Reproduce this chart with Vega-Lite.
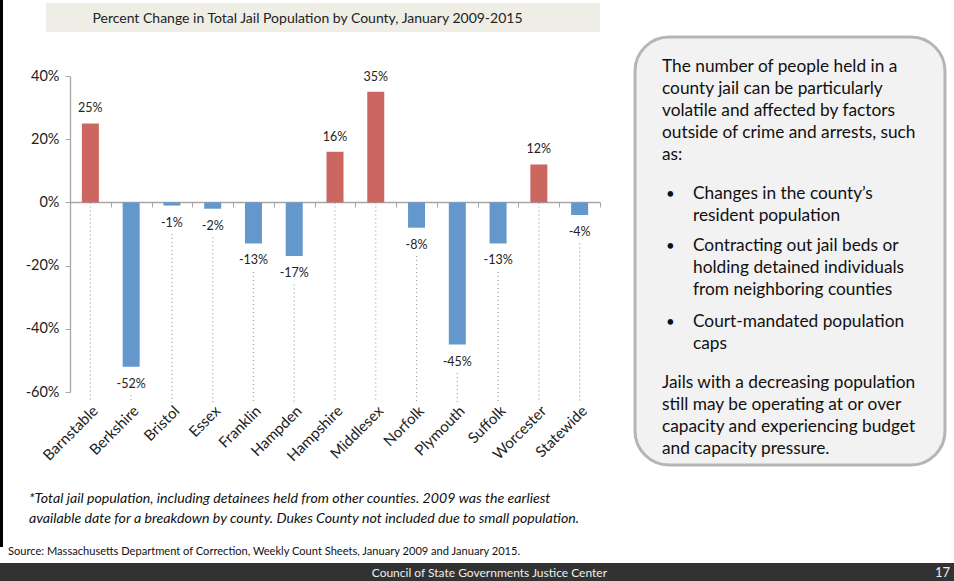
{
  "$schema": "https://vega.github.io/schema/vega-lite/v6.json",
  "width": 530,
  "height": 316,
  "autosize": {"type": "none"},
  "padding": {"left": 70, "top": 76, "right": 354, "bottom": 189},
  "background": "white",
  "config": {
    "font": "Lato",
    "view": {"stroke": null},
    "locale": {"number": {"decimal": ".", "thousands": ",", "grouping": [3], "currency": ["$", ""], "minus": "-"}}
  },
  "data": {
    "values": [
      {"county": "Barnstable", "pct": 0.25},
      {"county": "Berkshire", "pct": -0.52},
      {"county": "Bristol", "pct": -0.01},
      {"county": "Essex", "pct": -0.02},
      {"county": "Franklin", "pct": -0.13},
      {"county": "Hampden", "pct": -0.17},
      {"county": "Hampshire", "pct": 0.16},
      {"county": "Middlesex", "pct": 0.35},
      {"county": "Norfolk", "pct": -0.08},
      {"county": "Plymouth", "pct": -0.45},
      {"county": "Suffolk", "pct": -0.13},
      {"county": "Worcester", "pct": 0.12},
      {"county": "Statewide", "pct": -0.04}
    ]
  },
  "resolve": {"axis": {"x": "independent"}},
  "layer": [
    {
      "data": {"values": [{}]},
      "mark": {"type": "rect", "color": "#eeeee6"},
      "encoding": {"x": {"value": -24}, "x2": {"value": 530}, "y": {"value": -73}, "y2": {"value": -44}}
    },
    {
      "data": {"values": [{}]},
      "mark": {"type": "text", "text": "Percent Change in Total Jail Population by County, January 2009-2015", "fontSize": 14, "color": "#222222", "align": "center", "baseline": "middle"},
      "encoding": {"x": {"value": 237.5}, "y": {"value": -57}}
    },
    {
      "data": {"values": [{}]},
      "mark": {"type": "rect", "fill": "#f2f2f2", "stroke": "#b5b5b5", "strokeWidth": 3, "cornerRadius": 34},
      "encoding": {"x": {"value": 565}, "x2": {"value": 875}, "y": {"value": -39}, "y2": {"value": 389}}
    },
    {
      "data": {"values": [{}]},
      "mark": {"type": "text", "fontSize": 17.3, "color": "#111111", "align": "left", "baseline": "top", "lineHeight": 22,
        "text": ["The number of people held in a", "county jail can be particularly", "volatile and affected by factors", "outside of crime and arrests, such", "as:"]},
      "encoding": {"x": {"value": 592}, "y": {"value": -18}}
    },
    {
      "data": {"values": [{}]},
      "mark": {"type": "text", "fontSize": 17.3, "color": "#111111", "align": "left", "baseline": "top", "lineHeight": 21.5,
        "text": ["Changes in the county\u2019s", "resident population"]},
      "encoding": {"x": {"value": 623}, "y": {"value": 109}}
    },
    {
      "data": {"values": [{}]},
      "mark": {"type": "text", "fontSize": 17.3, "color": "#111111", "align": "left", "baseline": "top", "lineHeight": 22,
        "text": ["Contracting out jail beds or", "holding detained individuals", "from neighboring counties"]},
      "encoding": {"x": {"value": 623}, "y": {"value": 161}}
    },
    {
      "data": {"values": [{}]},
      "mark": {"type": "text", "fontSize": 17.3, "color": "#111111", "align": "left", "baseline": "top", "lineHeight": 21.5,
        "text": ["Court-mandated population", "caps"]},
      "encoding": {"x": {"value": 623}, "y": {"value": 237}}
    },
    {
      "data": {"values": [{}]},
      "mark": {"type": "text", "fontSize": 15, "color": "#111111", "align": "left", "baseline": "top", "text": "\u2022"},
      "encoding": {"x": {"value": 596}, "y": {"value": 111}}
    },
    {
      "data": {"values": [{}]},
      "mark": {"type": "text", "fontSize": 15, "color": "#111111", "align": "left", "baseline": "top", "text": "\u2022"},
      "encoding": {"x": {"value": 596}, "y": {"value": 163}}
    },
    {
      "data": {"values": [{}]},
      "mark": {"type": "text", "fontSize": 15, "color": "#111111", "align": "left", "baseline": "top", "text": "\u2022"},
      "encoding": {"x": {"value": 596}, "y": {"value": 239}}
    },
    {
      "data": {"values": [{}]},
      "mark": {"type": "text", "fontSize": 17.3, "color": "#111111", "align": "left", "baseline": "top", "lineHeight": 22,
        "text": ["Jails with a decreasing population", "still may be operating at or over", "capacity and experiencing budget", "and capacity pressure."]},
      "encoding": {"x": {"value": 592}, "y": {"value": 298}}
    },
    {
      "data": {"values": [{}]},
      "mark": {"type": "text", "fontSize": 14.2, "fontStyle": "italic", "color": "#111111", "align": "left", "baseline": "top", "lineHeight": 20,
        "text": ["*Total jail population, including detainees held from other counties. 2009 was the earliest", "available date for a breakdown by county. Dukes County not included due to small population."]},
      "encoding": {"x": {"value": -41}, "y": {"value": 416}}
    },
    {
      "data": {"values": [{}]},
      "mark": {"type": "text", "fontSize": 11.1, "color": "#111111", "align": "left", "baseline": "middle",
        "text": "Source: Massachusetts Department of Correction, Weekly Count Sheets, January 2009 and January 2015."},
      "encoding": {"x": {"value": -62}, "y": {"value": 476}}
    },
    {
      "data": {"values": [{}]},
      "mark": {"type": "rule", "color": "#000000", "strokeWidth": 3},
      "encoding": {"x": {"value": -68.5}, "y": {"value": -76}, "y2": {"value": 471}}
    },
    {
      "data": {"values": [{}]},
      "mark": {"type": "rect", "color": "#323232"},
      "encoding": {"x": {"value": -70}, "x2": {"value": 884}, "y": {"value": 487}, "y2": {"value": 505}}
    },
    {
      "data": {"values": [{}]},
      "mark": {"type": "text", "fontSize": 12, "color": "#eeeeee", "align": "right", "baseline": "middle", "text": "Council of State Governments Justice Center"},
      "encoding": {"x": {"value": 537}, "y": {"value": 497}}
    },
    {
      "data": {"values": [{}]},
      "mark": {"type": "text", "fontSize": 13, "color": "#eeeeee", "align": "right", "baseline": "middle", "text": "17"},
      "encoding": {"x": {"value": 880}, "y": {"value": 497}}
    },
    {
      "transform": [{"calculate": "datum.pct >= 0 ? 0 : datum.pct - 0.09", "as": "dotTop"}],
      "mark": {"type": "rule", "color": "#a0a0a0", "strokeDash": [1, 3], "strokeWidth": 1.2},
      "encoding": {
        "x": {"field": "county", "type": "nominal", "sort": null,
          "scale": {"paddingInner": 0, "paddingOuter": 0},
          "axis": {"orient": "bottom", "offset": -190, "labels": false, "title": null, "domainColor": "#a6a6a6", "tickColor": "#a6a6a6", "tickSize": 5, "tickBand": "extent", "domainWidth": 1.3}},
        "y": {"field": "dotTop", "type": "quantitative"},
        "y2": {"datum": -0.633}
      }
    },
    {
      "mark": {"type": "bar", "width": 17},
      "encoding": {
        "x": {"field": "county", "type": "nominal", "sort": null,
          "axis": {"orient": "bottom", "title": null, "labelAngle": -45, "labelFontSize": 15, "labelColor": "#222222", "domain": false, "ticks": false, "labelPadding": 11}},
        "y": {"field": "pct", "type": "quantitative",
          "scale": {"domain": [-0.6, 0.4], "nice": false},
          "axis": {"title": null, "values": [-0.6, -0.4, -0.2, 0, 0.2, 0.4], "format": ".0%", "grid": false, "labelFontSize": 14.5, "labelColor": "#222222", "domainColor": "#a6a6a6", "tickColor": "#a6a6a6", "tickSize": 5, "labelPadding": 6, "domainWidth": 1.3}},
        "color": {"condition": {"test": "datum.pct >= 0", "value": "#cc6660"}, "value": "#6497cc"}
      }
    },
    {
      "transform": [{"filter": "datum.pct >= 0"}],
      "mark": {"type": "text", "fontSize": 12.5, "color": "#222222", "baseline": "middle", "dy": -15},
      "encoding": {
        "x": {"field": "county", "type": "nominal", "sort": null, "axis": null},
        "y": {"field": "pct", "type": "quantitative"},
        "text": {"field": "pct", "type": "quantitative", "format": ".0%"}
      }
    },
    {
      "transform": [{"filter": "datum.pct < 0"}],
      "mark": {"type": "text", "fontSize": 12.5, "color": "#222222", "baseline": "middle", "dy": 17},
      "encoding": {
        "x": {"field": "county", "type": "nominal", "sort": null, "axis": null},
        "y": {"field": "pct", "type": "quantitative"},
        "text": {"field": "pct", "type": "quantitative", "format": ".0%"}
      }
    }
  ]
}
